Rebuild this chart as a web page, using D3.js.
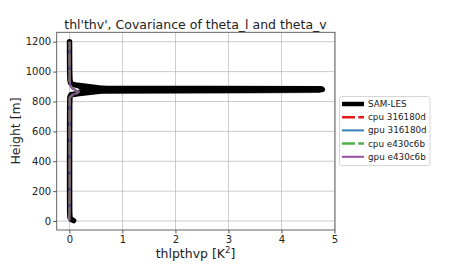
<!DOCTYPE html>
<html><head><meta charset="utf-8">
<script src="https://cdn.jsdelivr.net/npm/d3@7"></script>
<style>body{margin:0;background:#fff}svg{display:block}text{font-family:"DejaVu Sans",sans-serif;fill:#222}</style>
</head><body><svg id="c" width="450" height="270"></svg>
<script>
const xTicks = [0, 1, 2, 3, 4, 5];
const yTicks = [0, 200, 400, 600, 800, 1000, 1200];
const seriesNames = ["SAM-LES", "cpu 316180d", "gpu 316180d", "cpu e430c6b", "gpu e430c6b"];
// SAM-LES profile (value, height)
const lesValue = [0.08, 0.03, 0.01, 0.005, 0.003, 0.003, 0.004, 0.005, 0.01, 0.03, 0.15, 0.6, 4.72, 0.7, 0.2, 0.5, 4.77, 0.5, 0.2, 0.7, 4.75, 0.6, 0.15, 0.05, 0.02, 0.01, 0.005, 0.003, 0.002];
const lesHeight = [3, 12, 25, 60, 200, 400, 600, 780, 830, 845, 852, 870, 875, 872, 860, 876, 880, 882, 899, 887, 885, 889, 908, 915, 925, 945, 1000, 1100, 1200];
// model profiles
const modelHeight = [5, 20, 50, 200, 500, 800, 830, 845, 858, 865, 875, 890, 910, 940, 1000, 1200];
const cpu316Value = [0.0, -0.005, 0.0, 0.005, 0.005, 0.005, 0.01, 0.06, 0.15, 0.17, 0.12, 0.05, 0.015, 0.005, 0.003, 0.002];
const gpu316Value = [0.0, -0.005, 0.0, 0.005, 0.005, 0.005, 0.01, 0.06, 0.15, 0.17, 0.12, 0.05, 0.015, 0.005, 0.003, 0.002];
const cpuE43Value = [0.0, -0.005, 0.0, 0.005, 0.005, 0.005, 0.01, 0.06, 0.15, 0.17, 0.12, 0.05, 0.015, 0.005, 0.003, 0.002];
const gpuE43Value = [0.0, -0.005, 0.0, 0.005, 0.005, 0.005, 0.01, 0.06, 0.15, 0.17, 0.12, 0.05, 0.015, 0.005, 0.003, 0.002];

const svg = d3.select("#c");
const L = 56.7, R = 335, T = 32.3, B = 230;
const x = d3.scaleLinear().domain([-0.24, 5.01]).range([L, R]);
const y = d3.scaleLinear().domain([-60, 1263]).range([B, T]);

// grid
const g = svg.append("g");
g.selectAll(".gx").data(xTicks).enter().append("line")
  .attr("x1", d => x(d)).attr("x2", d => x(d)).attr("y1", T).attr("y2", B)
  .attr("stroke", "#b0b0b0").attr("stroke-width", 0.8).attr("opacity", 0.8);
g.selectAll(".gy").data(yTicks).enter().append("line")
  .attr("y1", d => y(d)).attr("y2", d => y(d)).attr("x1", L).attr("x2", R)
  .attr("stroke", "#b0b0b0").attr("stroke-width", 0.8).attr("opacity", 0.8);

const line = d3.line().x(d => x(d[0])).y(d => y(d[1]));
svg.append("clipPath").attr("id", "pc").append("rect")
  .attr("x", L).attr("y", T).attr("width", R - L).attr("height", B - T);
const plot = svg.append("g").attr("clip-path", "url(#pc)");

plot.append("path").datum(d3.zip(lesValue, lesHeight)).attr("d", line)
  .attr("fill", "none").attr("stroke", "#000").attr("stroke-width", 5.5)
  .attr("stroke-linejoin", "round").attr("stroke-linecap", "round");

const models = [
  {v: cpu316Value, c: "#e41a1c", w: 2.5, dash: "13,3.3", o: 0.6},
  {v: gpu316Value, c: "#377eb8", w: 2, dash: null, o: 0.6},
  {v: cpuE43Value, c: "#4daf4a", w: 2.5, dash: "13,3.3", o: 0.6},
  {v: gpuE43Value, c: "#984ea3", w: 2, dash: null, o: 0.75}
];
models.forEach(m => {
  plot.append("path").datum(d3.zip(m.v, modelHeight)).attr("d", line)
    .attr("fill", "none").attr("stroke", m.c).attr("stroke-width", m.w)
    .attr("stroke-dasharray", m.dash).attr("opacity", m.o);
});

// axes frame
svg.append("rect").attr("x", L).attr("y", T).attr("width", R - L).attr("height", B - T)
  .attr("fill", "none").attr("stroke", "#555").attr("stroke-width", 0.9);

const xa = svg.append("g").attr("transform", `translate(0,${B})`)
  .call(d3.axisBottom(x).tickValues(xTicks).tickSize(3.5).tickPadding(2).tickFormat(d3.format("d")));
const ya = svg.append("g").attr("transform", `translate(${L},0)`)
  .call(d3.axisLeft(y).tickValues(yTicks).tickSize(3.5).tickPadding(2).tickFormat(d3.format("d")));
[xa, ya].forEach(a => {
  a.select(".domain").remove();
  a.selectAll("line").attr("stroke", "#555");
  a.selectAll("text").attr("font-size", "10px").attr("font-family", "DejaVu Sans").attr("fill", "#222");
});

svg.append("text").attr("x", 195.5).attr("y", 29).attr("text-anchor", "middle")
  .attr("font-size", "12.5px").text("thl'thv', Covariance of theta_l and theta_v");
const xl = svg.append("text").attr("x", 195.5).attr("y", 258).attr("text-anchor", "middle").attr("font-size", "12.5px");
xl.append("tspan").text("thlpthvp [K");
xl.append("tspan").attr("font-size", "8.5px").attr("dy", -5).text("2");
xl.append("tspan").attr("dy", 5).text("]");
svg.append("text").attr("transform", "translate(20,131) rotate(-90)").attr("text-anchor", "middle")
  .attr("font-size", "12.5px").text("Height [m]");

// legend
const lg = svg.append("g");
lg.append("rect").attr("x", 339.5).attr("y", 96.5).attr("width", 90.5).attr("height", 69)
  .attr("rx", 2.5).attr("fill", "#fff").attr("stroke", "#ccc").attr("stroke-width", 0.8);
const legStyles = [
  {c: "#000", w: 4.5, dash: null},
  {c: "#e41a1c", w: 2.5, dash: "13,3.3"},
  {c: "#377eb8", w: 2, dash: null},
  {c: "#4daf4a", w: 2.5, dash: "13,3.3"},
  {c: "#984ea3", w: 2, dash: null}
];
seriesNames.forEach((n, i) => {
  const yy = 104 + i * 13.2;
  lg.append("line").attr("x1", 342).attr("x2", 364).attr("y1", yy).attr("y2", yy)
    .attr("stroke", legStyles[i].c).attr("stroke-width", legStyles[i].w)
    .attr("stroke-dasharray", legStyles[i].dash);
  lg.append("text").attr("x", 368).attr("y", yy + 3).attr("font-size", "8.8px").text(n);
});
</script></body></html>
